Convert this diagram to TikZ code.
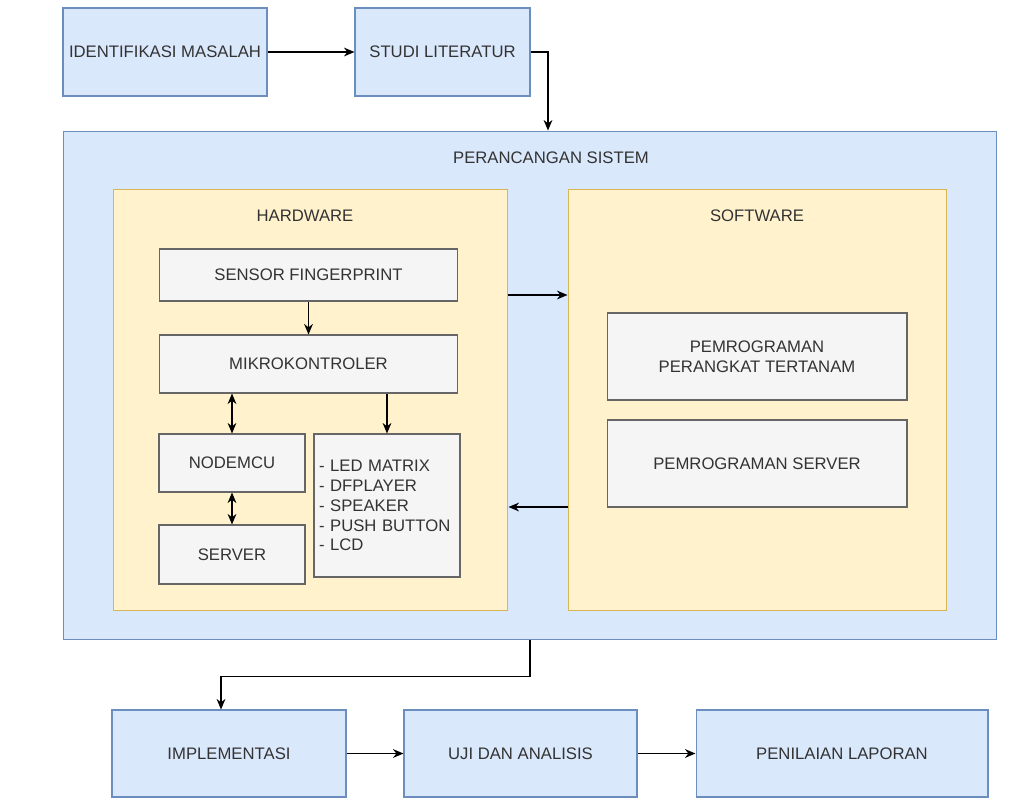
\documentclass[tikz,border=0pt]{standalone}
\usepackage{fontspec}
\setmainfont{Liberation Sans}
\usetikzlibrary{arrows.meta,positioning}
\definecolor{node_blue}{RGB}{218,232,252}
\definecolor{edge_blue}{RGB}{108,142,191}
\definecolor{node_yell}{RGB}{255,242,204}
\definecolor{edge_yell}{RGB}{214,182,86}
\definecolor{node_grey}{RGB}{245,245,245}
\definecolor{edge_grey}{RGB}{102,102,102}
\definecolor{text_grey}{RGB}{51,51,51}

\begin{document}
\begin{tikzpicture}[x=0.02cm,y=-0.02cm,font=\fontsize{9.5}{11.3}\selectfont]
    \tikzstyle{arr}=[-{Stealth[length=6pt,width=5pt]},line width=0.8pt,black]
    \tikzstyle{dbl}=[{Stealth[length=6pt,width=5pt]}-{Stealth[length=6pt,width=5pt]},line width=0.8pt,black]
    \tikzstyle{box}=[draw, rectangle, line width=0.6pt, text=text_grey, inner sep=2pt]
    \tikzstyle{stage}=[style=box, fill=node_blue, draw=edge_blue]
    \tikzstyle{part}=[style=box, fill=node_yell, draw=edge_yell]
    \tikzstyle{unit}=[style=box, fill=node_grey, draw=edge_grey]
    \tikzstyle{title}=[text=text_grey]

    \useasboundingbox (0,0) rectangle (1036,799);

    % tahap awal
    \node[stage, minimum width=4.08cm, minimum height=1.76cm] (ident) at (165,52)  {IDENTIFIKASI MASALAH};
    \node[stage, minimum width=3.5cm,  minimum height=1.76cm] (studi) at (442.5,52) {STUDI LITERATUR};

    % perancangan sistem
    \node[stage, minimum width=18.68cm, minimum height=10.18cm] (ps) at (530,385.5) {};
    \node[title] (pst) at (551,158) {PERANCANGAN SISTEM};

    \node[part, minimum width=7.9cm,  minimum height=8.44cm] (hw) at (310.5,400) {};
    \node[title] (hwt) at (305,216) {HARDWARE};
    \node[part, minimum width=7.58cm, minimum height=8.44cm] (sw) at (757.5,400) {};
    \node[title] (swt) at (757,216) {SOFTWARE};

    \node[unit, minimum width=5.98cm, minimum height=1.04cm] (sensor)  at (308.5,275) {SENSOR FINGERPRINT};
    \node[unit, minimum width=5.98cm, minimum height=1.16cm] (mikro)   at (308.5,364) {MIKROKONTROLER};
    \node[unit, minimum width=2.92cm, minimum height=1.16cm] (nodemcu) at (232,463)   {NODEMCU};
    \node[unit, minimum width=2.92cm, minimum height=1.18cm] (server)  at (232,554.5) {SERVER};
    \node[unit, minimum width=2.92cm, minimum height=2.86cm, text width=2.72cm, align=left] (aktuator) at (387,505.5)
        {- LED MATRIX\\- DFPLAYER\\- SPEAKER\\- PUSH BUTTON\\- LCD};

    \node[unit, minimum width=6cm, minimum height=1.74cm, align=center] (progtanam) at (757,356.5)
        {PEMROGRAMAN\\PERANGKAT TERTANAM};
    \node[unit, minimum width=6cm, minimum height=1.74cm] (progserver) at (757,463.5) {PEMROGRAMAN SERVER};

    % tahap akhir
    \node[stage, minimum width=4.68cm, minimum height=1.74cm] (impl)  at (229,753.5)   {IMPLEMENTASI};
    \node[stage, minimum width=4.66cm, minimum height=1.74cm] (uji)   at (520.5,753.5) {UJI DAN ANALISIS};
    \node[stage, minimum width=5.84cm, minimum height=1.74cm] (nilai) at (842,753.5)   {PENILAIAN LAPORAN};

    \draw[arr] (ident) -- (studi);
    \draw[arr] (studi.east) -| (ps.north -| 548,0);
    \draw[arr] (sensor) -- (mikro);
    \draw[dbl] (mikro.south -| nodemcu) -- (nodemcu.north);
    \draw[dbl] (nodemcu) -- (server);
    \draw[arr] (mikro.south -| aktuator) -- (aktuator.north);
    \draw[arr] (hw.east |- 0,295) -- (sw.west |- 0,295);
    \draw[arr] (sw.west |- 0,507) -- (hw.east |- 0,507);
    \draw[arr] (ps.south) -- ++(0,36) -| (impl.north -| 221,0);
    \draw[arr] (impl) -- (uji);
    \draw[arr] (uji) -- (nilai);
\end{tikzpicture}
\end{document}
